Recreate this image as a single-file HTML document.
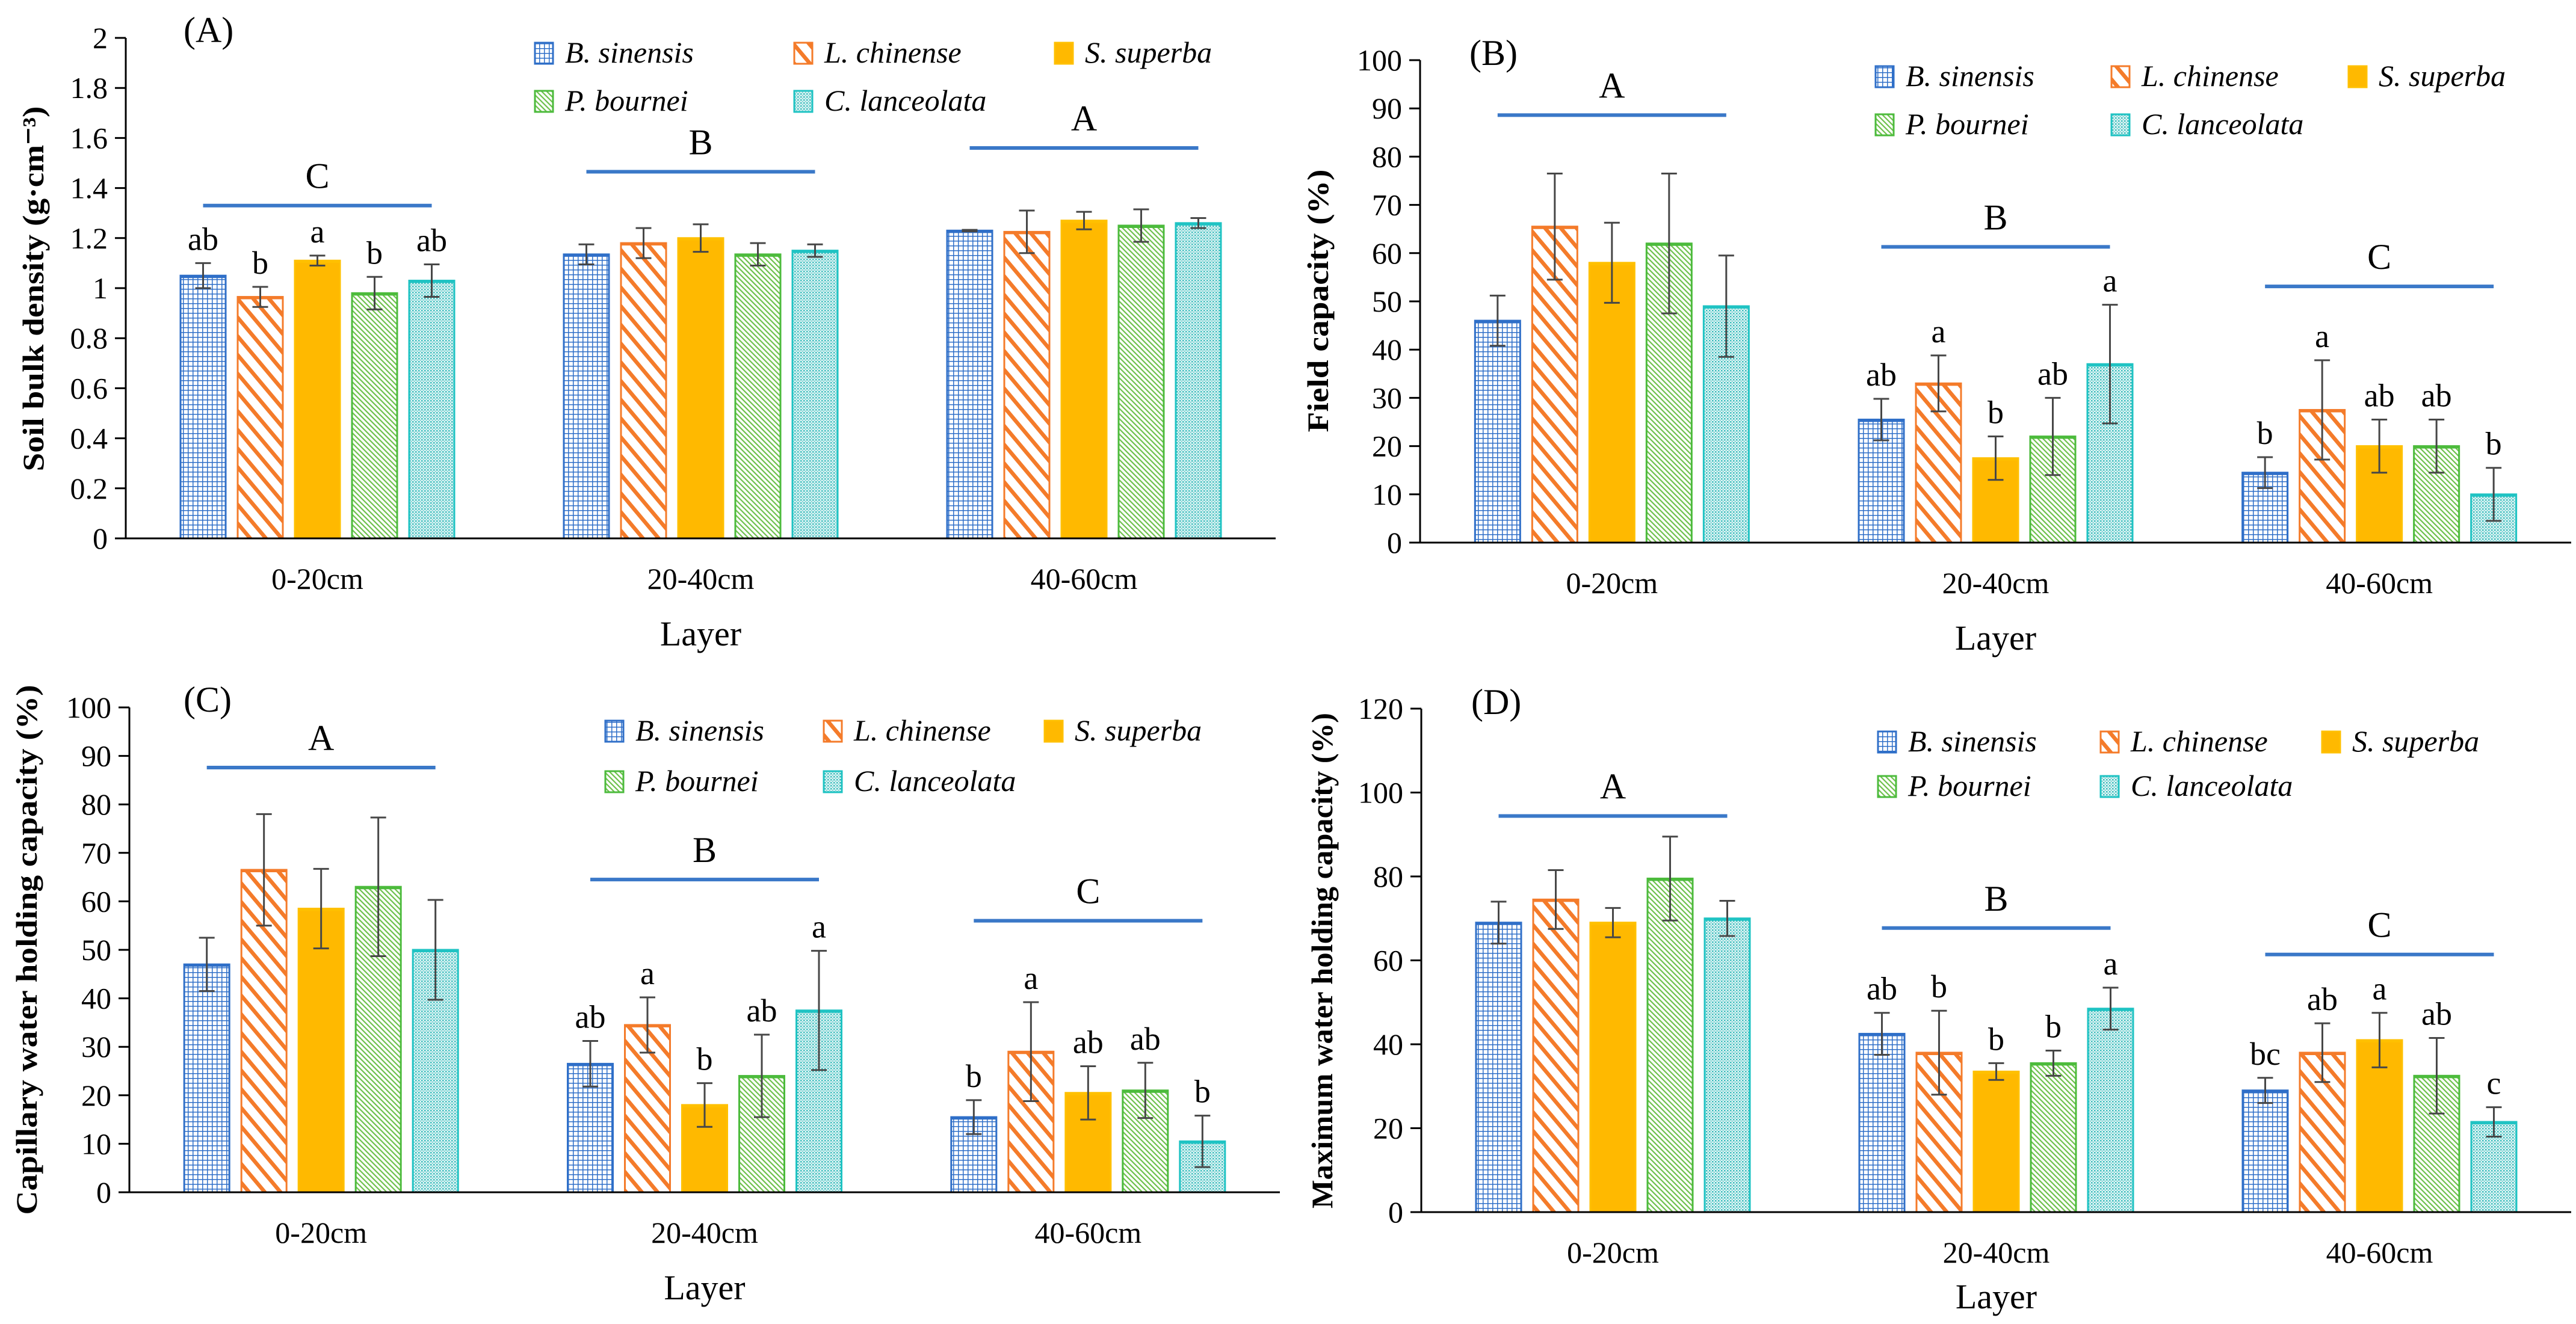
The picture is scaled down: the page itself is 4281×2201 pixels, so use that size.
<!DOCTYPE html>
<html><head><meta charset="utf-8"><style>
html,body{margin:0;padding:0;background:#fff}
svg{display:block}
svg text{font-family:"Liberation Serif","Times New Roman",serif}
</style></head><body>
<svg id="fig" xmlns="http://www.w3.org/2000/svg" width="4281" height="2201" viewBox="0 0 4281 2201" font-family="'Liberation Serif', serif">
<defs>
<pattern id="pGrid" patternUnits="userSpaceOnUse" width="8" height="8"><rect width="8" height="8" fill="#fff"/><path d="M0 0.5H8M0.5 0V8" stroke="#2f6fc8" stroke-width="2"/></pattern>
<pattern id="pOrange" patternUnits="userSpaceOnUse" width="20" height="20" patternTransform="rotate(-40)"><rect width="20" height="20" fill="#fff"/><rect x="0" y="0" width="6.5" height="20" fill="#f47b2a"/></pattern>
<pattern id="pGreen" patternUnits="userSpaceOnUse" width="6" height="6" patternTransform="rotate(-45)"><rect width="6" height="6" fill="#fff"/><rect x="0" y="0" width="2.2" height="6" fill="#6cc04a"/></pattern>
<pattern id="pCyan" patternUnits="userSpaceOnUse" width="5" height="5"><rect width="5" height="5" fill="#e6f7f7"/><rect x="0" y="0" width="2.5" height="2.5" fill="#3cbcbc"/><rect x="2.5" y="2.5" width="2.5" height="2.5" fill="#8fd8d8"/></pattern>
</defs>
</svg>
<script>
const categories = ["0-20cm","20-40cm","40-60cm"];
const species = ["B. sinensis","L. chinense","S. superba","P. bournei","C. lanceolata"];
// Panel A: soil bulk density
const valsA = [[1.05,0.965,1.11,0.98,1.03],[1.135,1.18,1.2,1.135,1.15],[1.23,1.225,1.27,1.25,1.26]];
const errsA = [[0.05,0.04,0.02,0.065,0.065],[0.04,0.06,0.055,0.045,0.025],[0.003,0.085,0.035,0.065,0.02]];
const lettersA = [["ab","b","a","b","ab"],[],[]];
const sigA = [1.33,1.465,1.56];
const sigLabelsA = ["C","B","A"];
const ticksA = [0,0.2,0.4,0.6,0.8,1,1.2,1.4,1.6,1.8,2];
// Panel B: field capacity
const valsB = [[46,65.5,58,62,49],[25.5,33,17.5,22,37],[14.5,27.5,20,20,10]];
const errsB = [[5.2,11,8.3,14.5,10.5],[4.3,5.8,4.5,8,12.3],[3.2,10.3,5.5,5.5,5.5]];
const lettersB = [[],["ab","a","b","ab","a"],["b","a","ab","ab","b"]];
const sigB = [88.6,61.3,53.1];
const sigLabelsB = ["A","B","C"];
const ticksB = [0,10,20,30,40,50,60,70,80,90,100];
// Panel C: capillary water holding capacity
const valsC = [[47,66.5,58.5,63,50],[26.5,34.5,18,24,37.5],[15.5,29,20.5,21,10.5]];
const errsC = [[5.5,11.5,8.2,14.3,10.3],[4.7,5.7,4.5,8.5,12.3],[3.5,10.2,5.5,5.7,5.3]];
const lettersC = [[],["ab","a","b","ab","a"],["b","a","ab","ab","b"]];
const sigC = [87.6,64.5,56];
const sigLabelsC = ["A","B","C"];
const ticksC = [0,10,20,30,40,50,60,70,80,90,100];
// Panel D: maximum water holding capacity
const valsD = [[69,74.5,69,79.5,70],[42.5,38,33.5,35.5,48.5],[29,38,41,32.5,21.5]];
const errsD = [[5,7,3.5,10,4.2],[5,10,2,3,5],[3,7,6.5,9,3.5]];
const lettersD = [[],["ab","b","b","b","a"],["bc","ab","a","ab","c"]];
const sigD = [94.4,67.7,61.4];
const sigLabelsD = ["A","B","C"];
const ticksD = [0,20,40,60,80,100,120];

const fills = ["url(#pGrid)","url(#pOrange)","#ffb900","url(#pGreen)","url(#pCyan)"];
const borders = ["#2f6fc8","#f47b2a","#ffc000","#4cbb3c","#1fc3c3"];
const NS = "http://www.w3.org/2000/svg";
const svg = document.getElementById("fig");
const FONT = "'Liberation Serif', 'Times New Roman', serif";

function mk(tag, attrs, parent){
  const e = document.createElementNS(NS, tag);
  for (const k in attrs) e.setAttribute(k, attrs[k]);
  (parent||svg).appendChild(e);
  return e;
}
function txt(parent, x, y, s, size, anchor, extra){
  const t = mk("text", {x:x, y:y, "font-size":size, "font-family":FONT, "text-anchor":anchor||"middle", fill:"#000"}, parent);
  if (extra) for (const k in extra) t.setAttribute(k, extra[k]);
  t.textContent = s;
  return t;
}

const panels = [
 {id:"a", label:"(A)", title:"Soil bulk density (g·cm⁻³)", vals:valsA, errs:errsA, letters:lettersA, sig:sigA, sigL:sigLabelsA, ticks:ticksA, max:2,
  ax:209, x1:2120, top:63, bot:895, titleX:55, titleY:480, titleLen:607, labX:305, labY:50, legX:[889,1320,1753], legY:[88,168], layerOff:178},
 {id:"b", label:"(B)", title:"Field capacity (%)", vals:valsB, errs:errsB, letters:lettersB, sig:sigB, sigL:sigLabelsB, ticks:ticksB, max:100,
  ax:2360, x1:4273, top:100, bot:902, titleX:2190, titleY:500, titleLen:437, labX:2442, labY:88, legX:[3117,3509,3903], legY:[127,207], layerOff:178},
 {id:"c", label:"(C)", title:"Capillary water holding capacity (%)", vals:valsC, errs:errsC, letters:lettersC, sig:sigC, sigL:sigLabelsC, ticks:ticksC, max:100,
  ax:215, x1:2127, top:1176, bot:1982, titleX:44, titleY:1579, titleLen:881, labX:305, labY:1163, legX:[1006,1369,1736], legY:[1215,1299], layerOff:178},
 {id:"d", label:"(D)", title:"Maximum water holding capacity (%)", vals:valsD, errs:errsD, letters:lettersD, sig:sigD, sigL:sigLabelsD, ticks:ticksD, max:120,
  ax:2362, x1:4273, top:1178, bot:2015, titleX:2197, titleY:1597, titleLen:824, labX:2445, labY:1167, legX:[3121,3491,3859], legY:[1233,1307], layerOff:160}
];

panels.forEach(p=>{
  const g = mk("g", {});
  
  
  const yS = v => p.bot - v/p.max*(p.bot-p.top);
  const band = (p.x1 - p.ax)/3;
  const barW = 75, step = 95;
  const off = (band - (4*step+barW))/2;
  const barX = (c,s) => p.ax + c*band + off + s*step;
  const catC = c => p.ax + c*band + band/2;

  p.vals.forEach((row,c)=>{
    row.forEach((v,s)=>{
      const y = yS(v);
      const r = mk("rect", {x:barX(c,s), y:y, width:barW, height:p.bot-y, fill:fills[s], stroke:borders[s], "stroke-width":3}, g);
      
      
      mk("line", {x1:barX(c,s), x2:barX(c,s)+barW, y1:y+2, y2:y+2, stroke:borders[s], "stroke-width":4}, g);
      const e = p.errs[c][s];
      const cx = barX(c,s)+barW/2;
      const eg = mk("g", {stroke:"#474747", "stroke-width":3}, g);
      
      
      mk("line", {x1:cx, x2:cx, y1:yS(v+e), y2:yS(v-e)}, eg);
      mk("line", {x1:cx-13, x2:cx+13, y1:yS(v+e), y2:yS(v+e)}, eg);
      mk("line", {x1:cx-13, x2:cx+13, y1:yS(v-e), y2:yS(v-e)}, eg);
      const L = p.letters[c][s];
      if (L){
        const t = txt(g, cx, yS(v+e)-22, L, 54);
        
        
      }
    });
    const sy = yS(p.sig[c]);
    const ln = mk("line", {x1:catC(c)-190, x2:catC(c)+190, y1:sy, y2:sy, stroke:"#3a78c8", "stroke-width":6}, g);
    
    
    const gl = txt(g, catC(c), sy-29, p.sigL[c], 60);
    
    
    const cl = txt(g, catC(c), p.bot+84, categories[c], 50);
    
    
  });

  const ya = mk("line", {x1:p.ax, x2:p.ax, y1:p.top, y2:p.bot, stroke:"#000", "stroke-width":3}, g);
  
  
  const xa = mk("line", {x1:p.ax, x2:p.x1, y1:p.bot, y2:p.bot, stroke:"#000", "stroke-width":3}, g);
  
  
  p.ticks.forEach(tv=>{
    const y = yS(tv);
    mk("line", {x1:p.ax-18, x2:p.ax, y1:y, y2:y, stroke:"#000", "stroke-width":3}, g);
    const t = txt(g, p.ax-30, y+17, String(tv), 50, "end");
    
    
  });

  const xt = txt(g, (p.ax+p.x1)/2, p.bot+p.layerOff, "Layer", 58);
  
  
  const yt = mk("text", {x:0, y:0, transform:`translate(${p.titleX+17},${p.titleY}) rotate(-90)`, "font-size":50, "font-family":FONT, "font-weight":"bold", "text-anchor":"middle", textLength:p.titleLen, lengthAdjust:"spacingAndGlyphs", fill:"#000"}, g);
  yt.textContent = p.title;
  
  

  const pl = txt(g, p.labX, p.labY+20, p.label, 60, "start");
  
  

  species.forEach((name,s)=>{
    const lx = p.legX[s%3], ly = p.legY[Math.floor(s/3)];
    const lg = mk("g", {}, g);
    
    
    mk("rect", {x:lx, y:ly-17, width:30, height:35, fill:fills[s], stroke:borders[s], "stroke-width":3}, lg);
    txt(lg, lx+50, ly+16, name, 50, "start", {"font-style":"italic"});
  });
});
</script>
</body></html>
